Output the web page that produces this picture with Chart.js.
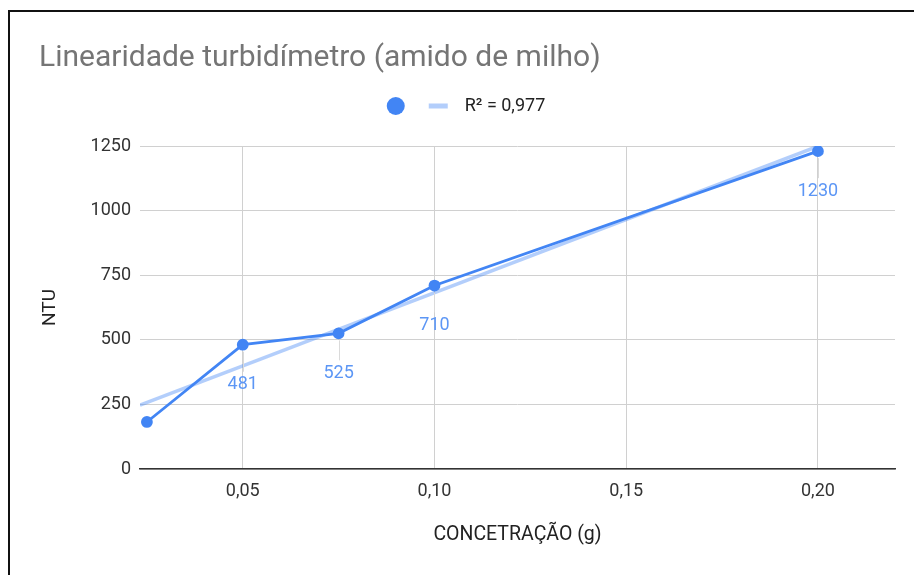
<!DOCTYPE html>
<html>
<head>
<meta charset="utf-8">
<script src="https://cdn.jsdelivr.net/npm/chart.js@4"></script>
<style>
  body { margin: 0; background: #fff; }
  #wrap { position: relative; width: 914px; height: 575px; }
  #frame { position: absolute; left: 8px; top: 10px; right: -10px; bottom: -10px;
           border-top: 2px solid #111; border-left: 2px solid #111; pointer-events: none; }
</style>
</head>
<body>
<div id="wrap">
  <canvas id="chart" width="914" height="575"></canvas>
  <div id="frame"></div>
</div>
<script>
// Data
const concentracao = [0.025, 0.05, 0.075, 0.10, 0.20];
const ntu = [182, 481, 525, 710, 1230];
const showLabel = [false, true, true, true, true];

// Trendline endpoints (as drawn)
const trendX = [0.0232, 0.20];
const trendY = [247, 1249];
const trendLabel = 'R² = 0,977';

const xTicks = [0.05, 0.10, 0.15, 0.20];

const BLUE = '#4285f4';
const TREND = 'rgba(66, 133, 244, 0.4)';
const FONT = 'Roboto, "Noto Sans", sans-serif';

// Labels under each point
const pointLabels = {
  id: 'pointLabels',
  afterDatasetsDraw(chart) {
    const ctx = chart.ctx;
    const meta = chart.getDatasetMeta(0);
    ctx.save();
    ctx.font = '18px ' + FONT;
    ctx.textAlign = 'center';
    ctx.textBaseline = 'middle';
    meta.data.forEach((pt, i) => {
      if (!showLabel[i]) return;
      ctx.strokeStyle = '#dadada';
      ctx.lineWidth = 1;
      ctx.beginPath();
      ctx.moveTo(Math.round(pt.x) + 0.5, pt.y + 7);
      ctx.lineTo(Math.round(pt.x) + 0.5, pt.y + 27);
      ctx.stroke();
      ctx.fillStyle = '#5c96f5';
      ctx.fillText(String(ntu[i]), pt.x, pt.y + 40);
    });
    ctx.restore();
  }
};

// Legend: dot for the series, bar for the trendline
const customLegend = {
  id: 'customLegend',
  afterDraw(chart) {
    const ctx = chart.ctx;
    ctx.save();
    ctx.font = '18px ' + FONT;
    const tw = ctx.measureText(trendLabel).width;
    const total = 18 + 24 + 19 + 17 + tw;
    let x = (chart.width - total) / 2 + 9;
    const y = 106;
    ctx.fillStyle = BLUE;
    ctx.beginPath();
    ctx.arc(x + 9, y, 9, 0, Math.PI * 2);
    ctx.fill();
    x += 18 + 24;
    ctx.strokeStyle = TREND;
    ctx.lineWidth = 5;
    ctx.beginPath();
    ctx.moveTo(x, y);
    ctx.lineTo(x + 19, y);
    ctx.stroke();
    x += 19 + 17;
    ctx.fillStyle = '#222';
    ctx.textBaseline = 'middle';
    ctx.fillText(trendLabel, x, y);
    ctx.restore();
  }
};

new Chart(document.getElementById('chart'), {
  type: 'scatter',
  data: {
    datasets: [{
      label: '',
      data: concentracao.map((x, i) => ({ x: x, y: ntu[i] })),
      showLine: true,
      borderColor: BLUE,
      backgroundColor: BLUE,
      borderWidth: 2.8,
      pointRadius: 4.5,
      pointHoverRadius: 4.5,
      order: 0
    }, {
      label: trendLabel,
      data: trendX.map((x, i) => ({ x: x, y: trendY[i] })),
      showLine: true,
      borderColor: TREND,
      borderWidth: 3.5,
      pointRadius: 0,
      order: 1
    }]
  },
  options: {
    responsive: false,
    animation: false,
    layout: { padding: { left: 39, right: 19, top: 0, bottom: 0 } },
    plugins: {
      legend: { display: false },
      tooltip: { enabled: false },
      title: {
        display: true,
        text: 'Linearidade turbidímetro (amido de milho)',
        align: 'start',
        color: '#757575',
        font: { family: FONT, size: 30, weight: 'normal', lineHeight: 1.2 },
        padding: { top: 40.5, bottom: 69.5 }
      }
    },
    scales: {
      x: {
        type: 'linear',
        min: 0.0232,
        max: 0.2201,
        afterBuildTicks(scale) { scale.ticks = xTicks.map(v => ({ value: v })); },
        afterFit(scale) { scale.height = 106; },
        ticks: {
          color: '#333',
          padding: 12,
          font: { family: FONT, size: 18 },
          callback: v => v.toFixed(2).replace('.', ',')
        },
        grid: { color: '#d0d0d0', drawTicks: false },
        border: { color: '#333', width: 1.5 },
        title: {
          display: true,
          text: 'CONCETRAÇÃO (g)',
          color: '#222',
          font: { family: FONT, size: 19.5 },
          padding: { top: 0, bottom: 28.6 }
        }
      },
      y: {
        min: 0,
        max: 1250,
        afterFit(scale) { scale.width = 101; },
        ticks: {
          stepSize: 250,
          color: '#333',
          padding: 9,
          font: { family: FONT, size: 18 },
          callback: v => String(v)
        },
        grid: { color: '#d0d0d0', drawTicks: false },
        border: { display: false },
        title: {
          display: true,
          text: 'NTU',
          color: '#222',
          font: { family: FONT, size: 19 },
          padding: { top: 0, bottom: 0 }
        }
      }
    }
  },
  plugins: [pointLabels, customLegend]
});
</script>
</body>
</html>
